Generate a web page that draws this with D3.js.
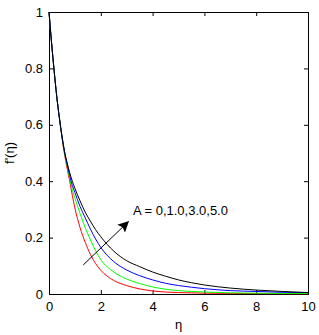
<!DOCTYPE html>
<html>
<head>
<meta charset="utf-8">
<script src="https://cdn.jsdelivr.net/npm/d3@7"></script>
<style>
  body { margin: 0; background: #fff; }
  text { font-family: Arial, "Liberation Sans", sans-serif; font-size: 13px; fill: #000; }
</style>
</head>
<body>
<svg id="chart" width="319" height="335"></svg>
<script>
// eta values shared by all curves
var eta = [0, 0.1, 0.2, 0.3, 0.4, 0.5, 0.6, 0.7, 0.8, 0.9, 1.0, 1.2, 1.4, 1.6, 1.8, 2.0, 2.5, 3.0, 3.5, 4.0, 4.5, 5.0, 5.5, 6.0, 7.0, 8.0, 9.0, 10.0];

// f'(eta) for A = 0, 1.0, 3.0, 5.0
var fA0 = [1.0, 0.89, 0.79, 0.70, 0.625, 0.555, 0.495, 0.445, 0.40, 0.35, 0.305, 0.235, 0.183, 0.14, 0.108, 0.084, 0.048, 0.03, 0.018, 0.011, 0.007, 0.005, 0.004, 0.003, 0.002, 0.0015, 0.001, 0.001];
var fA1 = [1.0, 0.89, 0.79, 0.70, 0.625, 0.56, 0.50, 0.455, 0.41, 0.37, 0.34, 0.285, 0.235, 0.192, 0.153, 0.122, 0.078, 0.053, 0.037, 0.025, 0.017, 0.012, 0.009, 0.007, 0.004, 0.003, 0.002, 0.002];
var fA3 = [1.0, 0.89, 0.79, 0.70, 0.625, 0.56, 0.505, 0.46, 0.42, 0.385, 0.36, 0.31, 0.27, 0.23, 0.195, 0.165, 0.115, 0.085, 0.065, 0.05, 0.038, 0.03, 0.024, 0.019, 0.012, 0.009, 0.006, 0.005];
var fA5 = [1.0, 0.89, 0.79, 0.70, 0.625, 0.56, 0.505, 0.465, 0.43, 0.40, 0.375, 0.33, 0.29, 0.258, 0.228, 0.203, 0.152, 0.118, 0.097, 0.078, 0.063, 0.05, 0.04, 0.032, 0.021, 0.014, 0.009, 0.005];

var seriesColors = ["#ff0000", "#00ff00", "#0000ff", "#000000"];
var xTicks = [0, 2, 4, 6, 8, 10];
var yTicks = [0, 0.2, 0.4, 0.6, 0.8, 1];

var svg = d3.select("#chart");
var plotL = 49, plotT = 12, plotR = 308, plotB = 294;

var x = d3.scaleLinear().domain([0, 10]).range([plotL, plotR]);
var y = d3.scaleLinear().domain([0, 1]).range([plotB, plotT]);

// axes with inward ticks on all four sides
svg.append("g").attr("transform", "translate(0," + plotB + ")")
  .call(d3.axisBottom(x).tickValues(xTicks).tickSizeInner(-4).tickSizeOuter(0).tickPadding(8).tickFormat(d3.format("d")));
svg.append("g").attr("transform", "translate(0," + plotT + ")")
  .call(d3.axisTop(x).tickValues(xTicks).tickSizeInner(-4).tickSizeOuter(0).tickFormat(""));
svg.append("g").attr("transform", "translate(" + plotL + ",0)")
  .call(d3.axisLeft(y).tickValues(yTicks).tickSizeInner(-4).tickSizeOuter(0).tickPadding(6).tickFormat(function(d){ return d === 0 || d === 1 ? d : d3.format(".1f")(d); }));
svg.append("g").attr("transform", "translate(" + plotR + ",0)")
  .call(d3.axisRight(y).tickValues(yTicks).tickSizeInner(-4).tickSizeOuter(0).tickFormat(""));

svg.selectAll(".domain").remove();
svg.selectAll(".tick line").attr("stroke", "#000");
svg.selectAll(".tick text").attr("font-size", 13).attr("font-family", "Arial, 'Liberation Sans', sans-serif").attr("fill", "#000");

svg.append("rect")
  .attr("x", plotL + 0.5).attr("y", plotT + 0.5)
  .attr("width", plotR - plotL).attr("height", plotB - plotT)
  .attr("fill", "none").attr("stroke", "#000");

var line = d3.line()
  .x(function(d){ return x(d[0]); })
  .y(function(d){ return y(d[1]); })
  .curve(d3.curveMonotoneX);

[fA0, fA1, fA3, fA5].forEach(function(vals, i){
  svg.append("path")
    .datum(eta.map(function(e, j){ return [e, vals[j]]; }))
    .attr("fill", "none")
    .attr("stroke", seriesColors[i])
    .attr("stroke-width", 1)
    .attr("d", line);
});

// arrow annotation
var arrowFrom = [1.32, 0.103], arrowTo = [3.06, 0.256];
svg.append("defs").append("marker")
  .attr("id", "head").attr("viewBox", "0 0 10 10")
  .attr("refX", 9).attr("refY", 5)
  .attr("markerWidth", 11).attr("markerHeight", 11)
  .attr("markerUnits", "userSpaceOnUse")
  .attr("orient", "auto")
  .append("path").attr("d", "M0,0 L10,5 L0,10 L2,5 Z").attr("fill", "#000");

svg.append("line")
  .attr("x1", x(arrowFrom[0])).attr("y1", y(arrowFrom[1]))
  .attr("x2", x(arrowTo[0])).attr("y2", y(arrowTo[1]))
  .attr("stroke", "#000").attr("stroke-width", 1)
  .attr("marker-end", "url(#head)");

svg.append("text")
  .attr("x", x(3.24)).attr("y", y(0.281))
  .text("A = 0,1.0,3.0,5.0");

// axis labels
svg.append("text")
  .attr("x", x(5)).attr("y", 329)
  .attr("text-anchor", "middle")
  .text("η");

svg.append("text")
  .attr("transform", "translate(14," + y(0.5) + ") rotate(-90)")
  .attr("text-anchor", "middle")
  .text("f'(η)");
</script>
</body>
</html>
